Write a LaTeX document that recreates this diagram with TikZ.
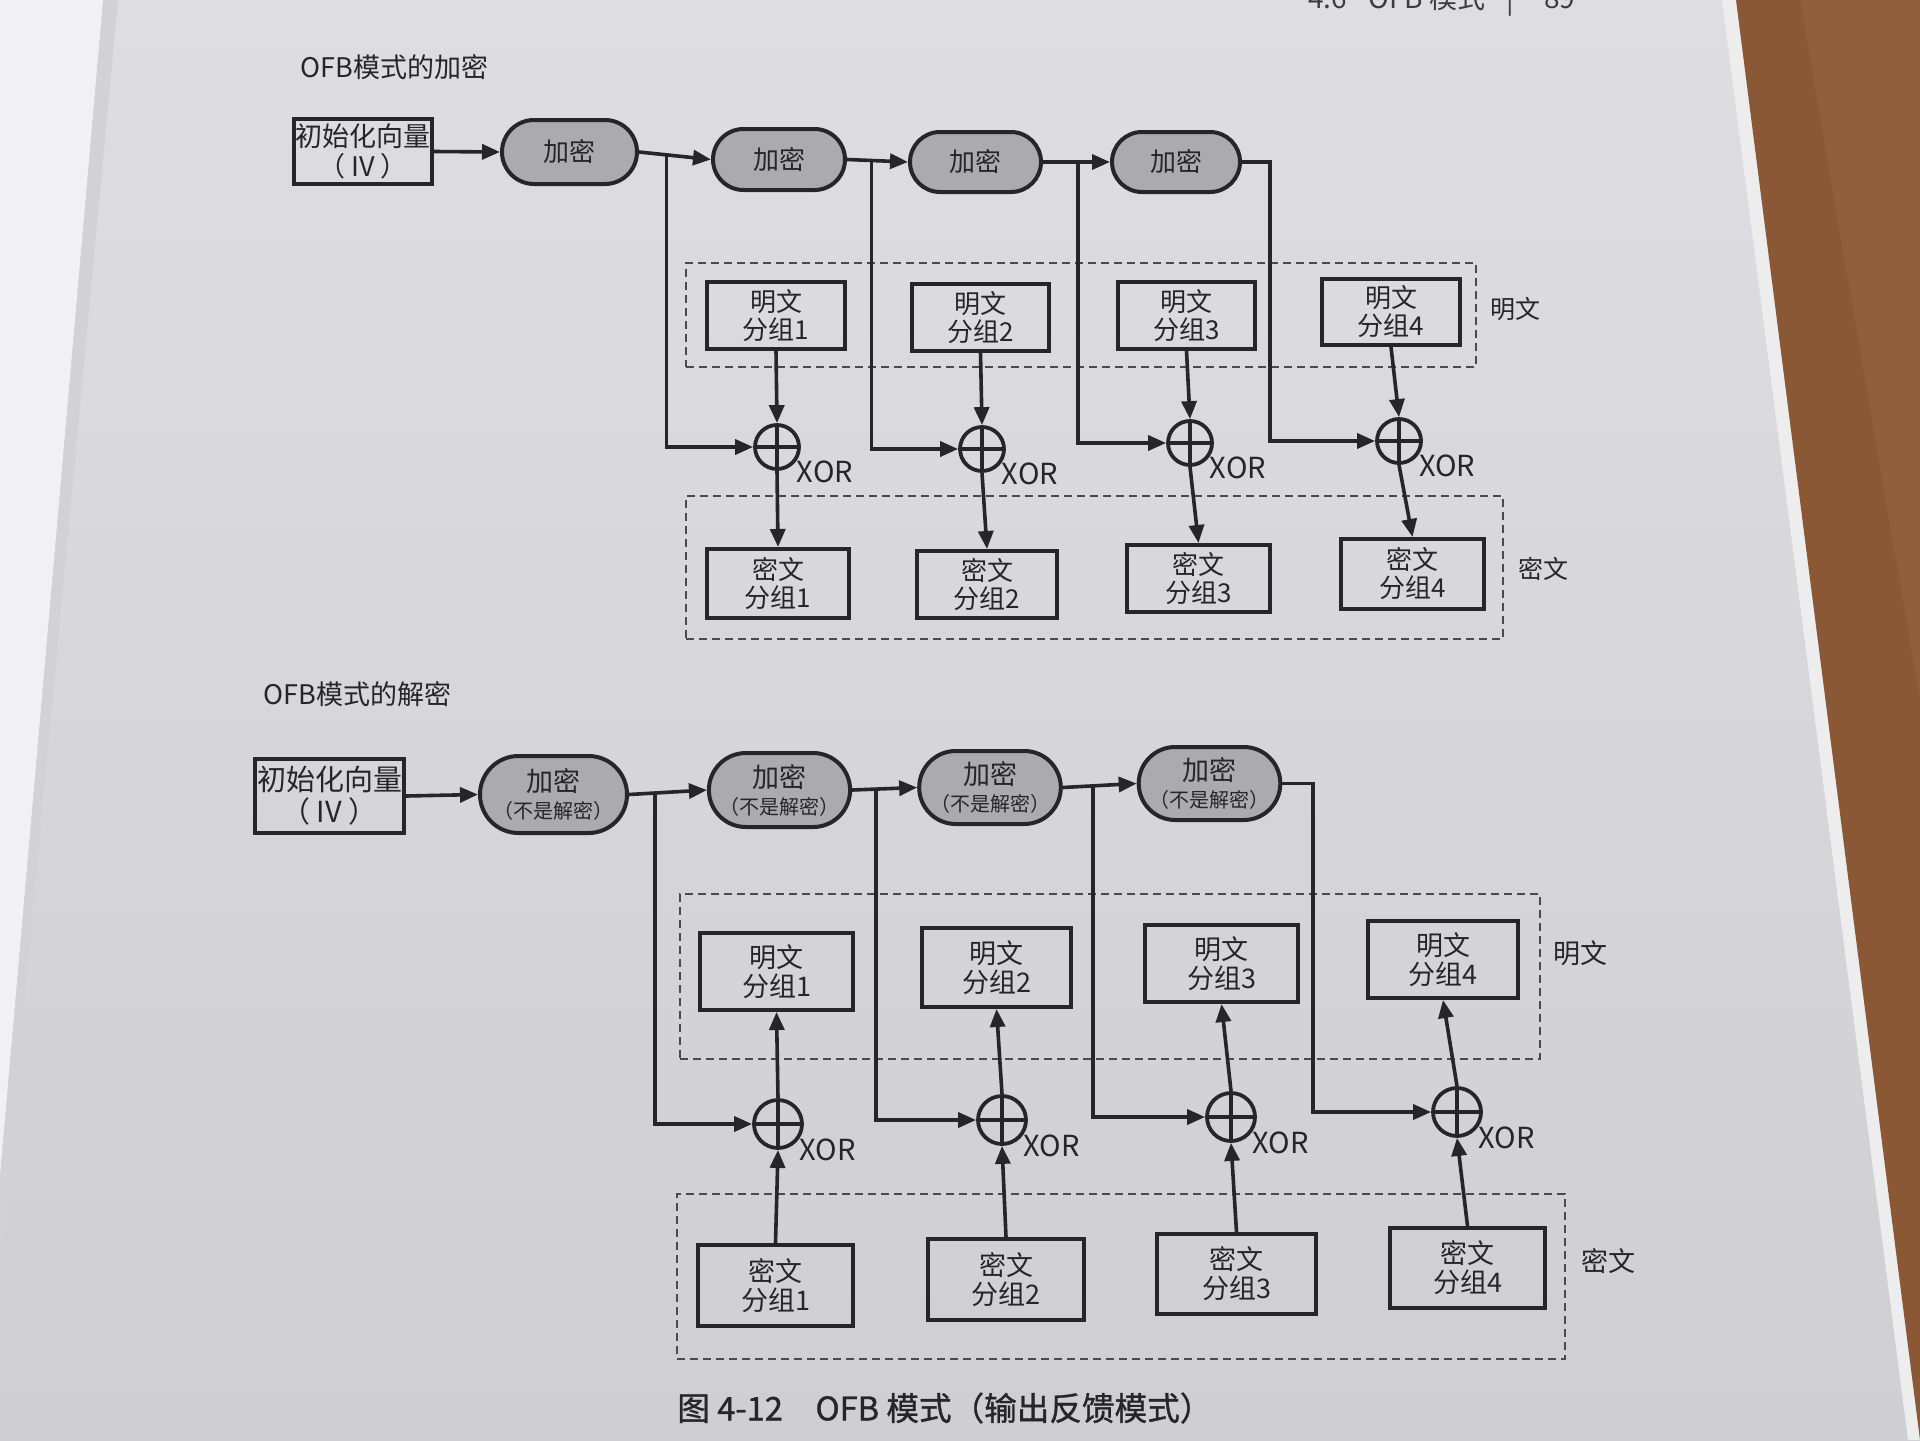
\documentclass[tikz,border=0pt]{standalone}
\usepackage{fontspec}
\setmainfont{Noto Sans CJK SC}
\newfontfamily\capfont[FakeBold=1]{Noto Sans CJK SC}
\usetikzlibrary{shapes.misc,arrows.meta,calc}
\definecolor{ink}{HTML}{262628}
\definecolor{encfill}{HTML}{ABABAD}
\definecolor{pagetop}{HTML}{DEDEE0}
\definecolor{pagebot}{HTML}{CFCFD1}
\definecolor{leftpage}{HTML}{F1F1F5}
\definecolor{leftshadow}{HTML}{C6C6CC}
\definecolor{wood}{HTML}{8A5834}
\definecolor{woodlight}{HTML}{9A6640}
\definecolor{pageedge}{HTML}{EDEDED}
\definecolor{dashcol}{HTML}{4A4A4C}
\definecolor{hdr}{HTML}{3C3C3E}
\tikzset{
  box/.style={draw=ink, line width=2pt, inner sep=0pt, align=center, text=ink},
  encnode/.style={rounded rectangle, draw=ink, fill=encfill, line width=2pt, inner sep=0pt, align=center, text=ink},
  xornode/.style={circle, draw=ink, line width=1.9pt, inner sep=0pt,
    path picture={\draw[ink, line width=1.9pt] (path picture bounding box.north) -- (path picture bounding box.south)
      (path picture bounding box.west) -- (path picture bounding box.east);}},
  grp/.style={draw=dashcol, line width=0.75pt, dash pattern=on 4pt off 2.5pt, inner sep=0pt},
  conn/.style={draw=ink, line width=1.8pt},
  arr/.style={conn, -{Triangle[length=9pt,width=7.5pt]}},
  ftA/.style={font=\fontsize{13pt}{14pt}\selectfont},
  ftB/.style={font=\fontsize{13.5pt}{14.5pt}\selectfont},
  xorlbl/.style={anchor=north west, inner sep=0pt, text=ink, font=\fontsize{14.5pt}{15pt}\selectfont},
  sidelbl/.style={text=ink, inner sep=0pt},
  ttl/.style={anchor=west, inner sep=0pt, text=ink, font=\fontsize{13.5pt}{14pt}\selectfont},
  hdrtxt/.style={anchor=base west, inner sep=0pt, text=hdr, font=\fontsize{14pt}{15pt}\selectfont}
}
\begin{document}
\begin{tikzpicture}[x=0.5pt,y=-0.5pt]
\useasboundingbox (0,0) rectangle (1920,1440);
% ---------- background (photo of a book page) ----------
\shade[top color=pagetop, bottom color=pagebot] (0,0) rectangle (1920,1440);
\fill[leftshadow!50!pagetop] (0,0) -- (118,0) -- (0,1260) -- cycle;
\fill[leftpage] (0,0) -- (103,0) -- (0,1175) -- cycle;
\fill[pageedge] (1722,0) -- (1920,0) -- (1920,1440) -- (1908,1440) -- cycle;
\fill[wood] (1736,0) -- (1920,0) -- (1920,1440) -- cycle;
\fill[woodlight, opacity=0.5] (1800,0) -- (1920,0) -- (1920,700) -- cycle;
% running header (cut by the page top)
\node[hdrtxt] (h1) at (1308,9) {4.6};
\node[hdrtxt] (h2) at (1368,9) {OFB 模式};
\node[hdrtxt] (h3) at (1506,9) {|};
\node[hdrtxt] (h4) at (1544,9) {89};

% ================= encryption =================
\node[ttl] (t1) at (300,67) {OFB模式的加密};
\node[grp, minimum width=395pt, minimum height=52pt] (g1) at (1081,315) {};
\node[grp, minimum width=408.5pt, minimum height=71.5pt] (g2) at (1094.5,567.5) {};
\node[sidelbl, font=\fontsize{12.5pt}{13pt}\selectfont] (l1) at (1515,309) {明文};
\node[sidelbl, font=\fontsize{12.5pt}{13pt}\selectfont] (l2) at (1543,569) {密文};

\node[box, font=\fontsize{13.5pt}{15pt}\selectfont, minimum width=69pt, minimum height=32.5pt] (iv1) at (363,151.5) {初始化向量\\（ IV ）};
\node[encnode, ftA, minimum width=67.5pt, minimum height=32pt] (e1) at (569.5,152) {加密};
\node[encnode, ftA, minimum width=66pt, minimum height=30.5pt] (e2) at (779,159.5) {加密};
\node[encnode, ftA, minimum width=65.5pt, minimum height=30pt] (e3) at (975.5,162) {加密};
\node[encnode, ftA, minimum width=64pt, minimum height=30pt] (e4) at (1176,162) {加密};

\node[box, ftA, minimum width=69pt, minimum height=33.5pt] (p1) at (776,315.5) {明文\\分组1};
\node[box, ftA, minimum width=68.5pt, minimum height=33.5pt] (p2) at (980.5,317.5) {明文\\分组2};
\node[box, ftA, minimum width=68.5pt, minimum height=33.5pt] (p3) at (1186.5,315.5) {明文\\分组3};
\node[box, ftA, minimum width=69pt, minimum height=33pt] (p4) at (1391,312) {明文\\分组4};

\node[xornode, minimum size=22pt] (x1) at (777,447) {};
\node[xornode, minimum size=22pt] (x2) at (982,449) {};
\node[xornode, minimum size=22pt] (x3) at (1190,443) {};
\node[xornode, minimum size=22pt] (x4) at (1399,441) {};
\node[xorlbl] (xl1) at (x1.-35) {XOR};
\node[xorlbl] (xl2) at (x2.-35) {XOR};
\node[xorlbl] (xl3) at (x3.-35) {XOR};
\node[xorlbl] (xl4) at (x4.-35) {XOR};

\node[box, ftA, minimum width=71pt, minimum height=34.5pt] (c1) at (778,583.5) {密文\\分组1};
\node[box, ftA, minimum width=70pt, minimum height=33.5pt] (c2) at (987,584.5) {密文\\分组2};
\node[box, ftA, minimum width=71.5pt, minimum height=33.5pt] (c3) at (1198.5,578.5) {密文\\分组3};
\node[box, ftA, minimum width=71.5pt, minimum height=35pt] (c4) at (1412.5,574) {密文\\分组4};

\draw[arr] (iv1.east) -- (e1.west);
\draw[arr] (e1.east) -- (e2.west);
\draw[arr] (e2.east) -- (e3.west);
\draw[arr] (e3.east) -- (e4.west);
\coordinate (b1) at ($(e1.east)!(667,150)!(e2.west)$);
\coordinate (b2) at ($(e2.east)!(872,150)!(e3.west)$);
\coordinate (b3) at ($(e3.east)!(1078,150)!(e4.west)$);
\coordinate (b4) at (1270,162);
\draw[arr] (b1) |- (x1.west);
\draw[arr] (b2) |- (x2.west);
\draw[arr] (b3) |- (x3.west);
\draw[arr] (e4.east) -- (b4) |- (x4.west);
\foreach \i in {1,2,3,4}{
  \draw[arr] (p\i.south) -- (x\i.north);
  \draw[arr] (x\i.south) -- (c\i.north);
}

% ================= decryption =================
\node[ttl] (t2) at (263,694) {OFB模式的解密};
\node[grp, minimum width=430pt, minimum height=82.5pt] (g3) at (1110,976.5) {};
\node[grp, minimum width=444pt, minimum height=82.5pt] (g4) at (1121,1276.5) {};
\node[sidelbl, font=\fontsize{13.5pt}{14pt}\selectfont] (l3) at (1580,953) {明文};
\node[sidelbl, font=\fontsize{13.5pt}{14pt}\selectfont] (l4) at (1608,1261) {密文};

\node[box, font=\fontsize{14.5pt}{16pt}\selectfont, minimum width=74.5pt, minimum height=37pt] (iv2) at (329.5,796) {初始化向量\\（ IV ）};
\node[encnode, ftB, minimum width=73.5pt, minimum height=38.5pt] (d1) at (553.5,794.5) {加密\\[-1pt]{\fontsize{10pt}{11pt}\selectfont（不是解密）}};
\node[encnode, ftB, minimum width=69.5pt, minimum height=37pt] (d2) at (779.5,790) {加密\\[-1pt]{\fontsize{10pt}{11pt}\selectfont（不是解密）}};
\node[encnode, ftB, minimum width=69pt, minimum height=36.5pt] (d3) at (990,787.5) {加密\\[-1pt]{\fontsize{10pt}{11pt}\selectfont（不是解密）}};
\node[encnode, ftB, minimum width=70.5pt, minimum height=36.5pt] (d4) at (1209.5,783.5) {加密\\[-1pt]{\fontsize{10pt}{11pt}\selectfont（不是解密）}};

\node[box, ftB, minimum width=76.5pt, minimum height=38.5pt] (dp1) at (776.5,971.5) {明文\\分组1};
\node[box, ftB, minimum width=74.5pt, minimum height=39.5pt] (dp2) at (996.5,967.5) {明文\\分组2};
\node[box, ftB, minimum width=76.5pt, minimum height=38.5pt] (dp3) at (1221.5,963.5) {明文\\分组3};
\node[box, ftB, minimum width=75pt, minimum height=38.5pt] (dp4) at (1443,959.5) {明文\\分组4};

\node[xornode, minimum size=24pt] (dx1) at (778,1124) {};
\node[xornode, minimum size=24pt] (dx2) at (1002,1120) {};
\node[xornode, minimum size=24pt] (dx3) at (1231,1117) {};
\node[xornode, minimum size=24pt] (dx4) at (1457,1112) {};
\node[xorlbl] (dxl1) at (dx1.-35) {XOR};
\node[xorlbl] (dxl2) at (dx2.-35) {XOR};
\node[xorlbl] (dxl3) at (dx3.-35) {XOR};
\node[xorlbl] (dxl4) at (dx4.-35) {XOR};

\node[box, ftB, minimum width=77.5pt, minimum height=40.5pt] (dc1) at (775.5,1285.5) {密文\\分组1};
\node[box, ftB, minimum width=78pt, minimum height=40.5pt] (dc2) at (1006,1279.5) {密文\\分组2};
\node[box, ftB, minimum width=79.5pt, minimum height=40pt] (dc3) at (1236.5,1274) {密文\\分组3};
\node[box, ftB, minimum width=77.5pt, minimum height=40pt] (dc4) at (1467.5,1268) {密文\\分组4};

\draw[arr] (iv2.east) -- (d1.west);
\draw[arr] (d1.east) -- (d2.west);
\draw[arr] (d2.east) -- (d3.west);
\draw[arr] (d3.east) -- (d4.west);
\coordinate (db1) at ($(d1.east)!(655,790)!(d2.west)$);
\coordinate (db2) at ($(d2.east)!(876,790)!(d3.west)$);
\coordinate (db3) at ($(d3.east)!(1093,790)!(d4.west)$);
\coordinate (db4) at (1313,783.5);
\draw[arr] (db1) |- (dx1.west);
\draw[arr] (db2) |- (dx2.west);
\draw[arr] (db3) |- (dx3.west);
\draw[arr] (d4.east) -- (db4) |- (dx4.west);
\foreach \i in {1,2,3,4}{
  \draw[arr] (dc\i.north) -- (dx\i.south);
  \draw[arr] (dx\i.north) -- (dp\i.south);
}

% caption
\node[anchor=west, inner sep=0pt, text=ink, font=\capfont\fontsize{16.3pt}{17pt}\selectfont] (cap) at (677,1408) {图 4-12　OFB 模式（输出反馈模式）};
\end{tikzpicture}
\end{document}
